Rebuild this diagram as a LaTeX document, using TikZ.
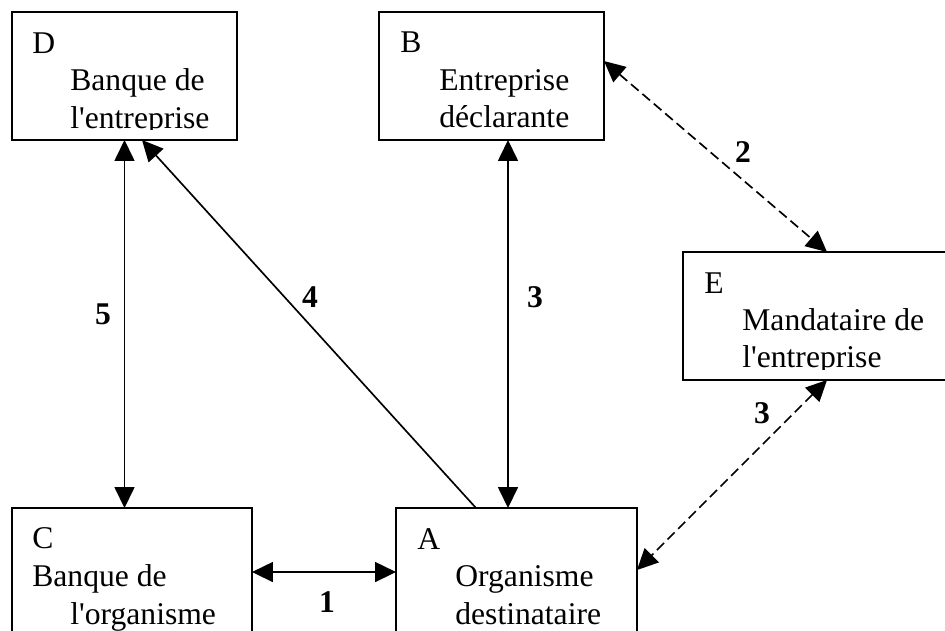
\documentclass[tikz,border=0pt]{standalone}
\usepackage{fontspec}
\setmainfont{Liberation Serif}
\usetikzlibrary{arrows.meta,calc}
\newcommand\boxfont{\fontsize{18pt}{21.6pt}\selectfont}

\begin{document}
\begin{tikzpicture}[
  x=0.02cm, y=-0.02cm,
  box/.style={draw, line width=1pt, inner sep=0pt, outer sep=0pt, minimum height=2.56cm},
  txt/.style={anchor=base west, inner sep=0pt, font=\boxfont},
  lbl/.style={inner sep=0pt, font=\boxfont\bfseries},
  arr/.style={-{Triangle[length=0.42cm, width=0.4cm]}, line width=0.95pt},
  darr/.style={{Triangle[length=0.42cm, width=0.4cm]}-{Triangle[length=0.42cm, width=0.4cm]}, line width=0.95pt},
  dsh/.style={darr, dash pattern=on 0.2cm off 0.1cm}
]
  \useasboundingbox (0,0) rectangle (945,630);
  \clip (0,0) rectangle (945,630);

  % boxes
  \node[box, minimum width=4.5cm]                      (D) at (124.5,76) {};
  \node[box, minimum width=4.5cm]                      (B) at (491.5,76) {};
  \node[box, minimum width=5.54cm]                     (E) at (821.5,316) {};
  \node[box, minimum width=4.8cm, minimum height=2.74cm]  (C) at (132,576.5) {};
  \node[box, minimum width=4.82cm, minimum height=2.74cm] (A) at (516.5,576.5) {};

  % texts
  \begin{scope}
    \clip (D.north west) rectangle ($(D.south east)+(0,-10)$);
    \node[txt] (D-id) at (32,53) {D};
    \node[txt] (D-l1) at (70,90) {Banque de};
    \node[txt] (D-l2) at (70,128) {l\textquotesingle entreprise};
  \end{scope}
  \node[txt] (B-id) at (400,52) {B};
  \node[txt] (B-l1) at (439,90) {Entreprise};
  \node[txt] (B-l2) at (439,127) {déclarante};
  \begin{scope}
    \clip (E.north west) rectangle ($(E.south east)+(0,-11)$);
    \node[txt] (E-id) at (704,293) {E};
    \node[txt] (E-l1) at (742,330) {Mandataire de};
    \node[txt] (E-l2) at (742,367) {l\textquotesingle entreprise};
  \end{scope}
  \node[txt] (C-id) at (32,548) {C};
  \node[txt] (C-l1) at (32,586) {Banque de};
  \node[txt] (C-l2) at (70,624) {l\textquotesingle organisme};
  \node[txt] (A-id) at (417,549) {A};
  \node[txt] (A-l1) at (455,586) {Organisme};
  \node[txt] (A-l2) at (455,624) {destinataire};

  % connectors
  \coordinate (xba) at (508,0);
  \draw[darr] (D.south) -- (D.south |- C.north);
  \draw[arr]  ($(A.north west)+(80,0)$) -- ($(D.south)+(17.5,0)$);
  \draw[darr] (B.south -| xba) -- (A.north -| xba);
  \draw[dsh]  ($(B.north east)+(0,49)$) -- ($(E.north west)+(144,0)$);
  \draw[dsh]  ($(E.south west)+(144,0)$) -- ($(A.north east)+(0,62)$);
  \draw[darr] ($(C.north east)+(0,64)$) -- ($(A.north west)+(0,64)$);

  % labels
  \node[lbl] (n5) at (103,314) {5};
  \node[lbl] (n4) at (310,297) {4};
  \node[lbl] (n3a) at (535,297) {3};
  \node[lbl] (n2) at (743,152) {2};
  \node[lbl] (n3b) at (762,413) {3};
  \node[lbl] (n1) at (327,602) {1};
\end{tikzpicture}
\end{document}
